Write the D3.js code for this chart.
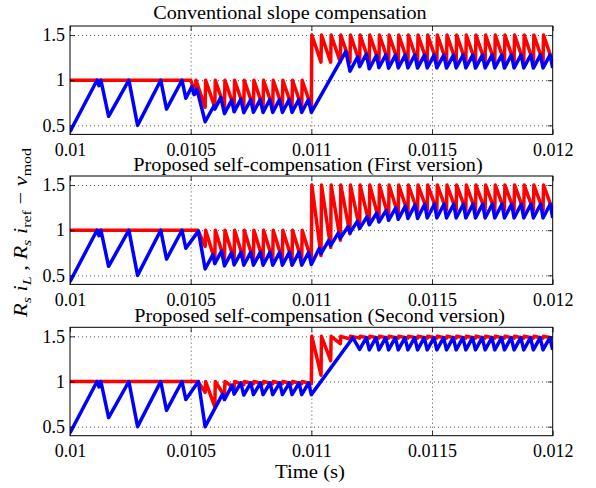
<!DOCTYPE html>
<html>
<head>
<meta charset="utf-8">
<script src="https://cdn.jsdelivr.net/npm/d3@7"></script>
<style>
body { margin: 0; background: #fff; }
text { font-family: "Liberation Serif", "Times New Roman", serif; fill: #000; }
</style>
</head>
<body>
<div class="chart"></div>
<script>
// Axis ticks
var xTicks = [0.01, 0.0105, 0.011, 0.0115, 0.012]
var xTickLabels = ["0.01", "0.0105", "0.011", "0.0115", "0.012"]
var yTicks = [0.5, 1, 1.5]
var yTickLabels = ["0.5", "1", "1.5"]
var panelTitles = ["Conventional slope compensation",
                   "Proposed self-compensation (First version)",
                   "Proposed self-compensation (Second version)"]

// Start-up part, the same in all three runs: [time (s), value]
var blueStart = [[0.01,0.43],[0.010112,1.0],[0.01012,0.94],[0.010128,1.0],[0.01016,0.6],
  [0.010244,1.0],[0.01028,0.5],[0.010376,1.0],[0.0104,0.68],[0.010464,1.0],[0.01048,0.8]]
var redStart = [[0.01,1],[0.0105,1]]

// Conventional slope compensation
var blue1 = [[0.010505,0.93],[0.010514,0.84],[0.010526,0.9],[0.01056,0.54],
  [0.010597,0.72],[0.0106,0.68],[0.010625,0.81],[0.01064,0.63],[0.01067,0.78],[0.01068,0.65],
  [0.010708,0.79],[0.01072,0.64],[0.010749,0.785],[0.01076,0.645],[0.010788,0.785],[0.0108,0.643],
  [0.010828,0.786],[0.01084,0.643],[0.010868,0.786],[0.01088,0.643],[0.010908,0.786],[0.01092,0.643],
  [0.010948,0.786],[0.01096,0.643],[0.010988,0.786],[0.011,0.643],
  [0.011143,1.32],[0.01116,1.1],[0.011192,1.26],[0.0112,1.15],[0.011228,1.29],[0.01124,1.126],
  [0.01127,1.276],[0.01128,1.138],[0.011309,1.283],[0.01132,1.133],[0.011349,1.28],[0.01136,1.135],
  [0.011389,1.28],[0.0114,1.135],[0.011429,1.282],[0.01144,1.134],[0.011469,1.28],[0.01148,1.135],
  [0.011509,1.281],[0.01152,1.135],[0.011549,1.28],[0.01156,1.134],[0.011589,1.28],[0.0116,1.135],
  [0.011629,1.282],[0.01164,1.135],[0.011669,1.28],[0.01168,1.134],[0.011709,1.28],[0.01172,1.135],
  [0.011749,1.281],[0.01176,1.135],[0.011789,1.28],[0.0118,1.134],[0.011829,1.28],[0.01184,1.135],
  [0.011869,1.282],[0.01188,1.135],[0.011909,1.28],[0.01192,1.134],[0.011949,1.28],[0.01196,1.135],
  [0.011989,1.281],[0.012,1.135]]
var red1 = [[0.01052,0.85],[0.010522,1],
  [0.01056,0.7],[0.010562,1],[0.0106,0.7],[0.010602,1],[0.01064,0.7],[0.010642,1],
  [0.01068,0.7],[0.010682,1],[0.01072,0.7],[0.010722,1],[0.01076,0.7],[0.010762,1],
  [0.0108,0.7],[0.010802,1],[0.01084,0.7],[0.010842,1],[0.01088,0.7],[0.010882,1],
  [0.01092,0.7],[0.010922,1],[0.01096,0.7],[0.010962,1],[0.011,0.7],[0.011002,1.5],
  [0.01104,1.2],[0.011042,1.5],[0.01108,1.2],[0.011082,1.5],[0.01112,1.2],[0.011122,1.5],
  [0.01116,1.2],[0.011162,1.5],[0.0112,1.2],[0.011202,1.5],[0.01124,1.2],[0.011242,1.5],
  [0.01128,1.2],[0.011282,1.5],[0.01132,1.2],[0.011322,1.5],[0.01136,1.2],[0.011362,1.5],
  [0.0114,1.2],[0.011402,1.5],[0.01144,1.2],[0.011442,1.5],[0.01148,1.2],[0.011482,1.5],
  [0.01152,1.2],[0.011522,1.5],[0.01156,1.2],[0.011562,1.5],[0.0116,1.2],[0.011602,1.5],
  [0.01164,1.2],[0.011642,1.5],[0.01168,1.2],[0.011682,1.5],[0.01172,1.2],[0.011722,1.5],
  [0.01176,1.2],[0.011762,1.5],[0.0118,1.2],[0.011802,1.5],[0.01184,1.2],[0.011842,1.5],
  [0.01188,1.2],[0.011882,1.5],[0.01192,1.2],[0.011922,1.5],[0.01196,1.2],[0.011962,1.5],
  [0.012,1.2]]

// Self-compensation, first version
var blue2 = [[0.010532,0.99],[0.01056,0.57],
  [0.010592,0.73],[0.0106,0.63],[0.010628,0.77],[0.01064,0.605],[0.01067,0.754],[0.01068,0.615],
  [0.010709,0.758],[0.01072,0.612],[0.010749,0.757],[0.01076,0.612],[0.010789,0.757],[0.0108,0.612],
  [0.010829,0.757],[0.01084,0.612],[0.010869,0.757],[0.01088,0.612],[0.010909,0.757],[0.01092,0.612],
  [0.010949,0.757],[0.01096,0.612],[0.010989,0.757],[0.011,0.62],
  [0.011033,0.8],[0.01104,0.74],[0.011073,0.89],[0.01108,0.83],[0.011112,0.97],[0.01112,0.91],
  [0.011152,1.04],[0.01116,0.97],[0.011191,1.1],[0.0112,1.02],[0.011231,1.15],[0.01124,1.06],
  [0.011271,1.19],[0.01128,1.09],[0.01131,1.22],[0.01132,1.11],[0.01135,1.25],[0.01136,1.12],
  [0.01139,1.27],[0.0114,1.13],[0.01143,1.28],[0.01144,1.13],[0.01147,1.29],[0.01148,1.135],
  [0.01151,1.29],[0.01152,1.135],[0.01155,1.29],[0.01156,1.135],[0.01159,1.29],[0.0116,1.135],
  [0.01163,1.29],[0.01164,1.135],[0.01167,1.29],[0.01168,1.135],[0.01171,1.29],[0.01172,1.135],
  [0.01175,1.29],[0.01176,1.135],[0.01179,1.29],[0.0118,1.135],[0.01183,1.29],[0.01184,1.135],
  [0.01187,1.29],[0.01188,1.135],[0.01191,1.29],[0.01192,1.135],[0.01195,1.29],[0.01196,1.135],
  [0.01199,1.29],[0.012,1.135]]
var red2 = [[0.01053,1],[0.01056,0.82],[0.010562,1],
  [0.0106,0.67],[0.010602,1],[0.01064,0.67],[0.010642,1],[0.01068,0.67],[0.010682,1],
  [0.01072,0.67],[0.010722,1],[0.01076,0.67],[0.010762,1],[0.0108,0.67],[0.010802,1],
  [0.01084,0.67],[0.010842,1],[0.01088,0.67],[0.010882,1],[0.01092,0.67],[0.010922,1],
  [0.01096,0.67],[0.010962,1],[0.011,0.67],[0.011002,1.5],
  [0.01104,0.72],[0.011042,1.5],[0.01108,0.81],[0.011082,1.5],[0.01112,0.89],[0.011122,1.5],
  [0.01116,0.96],[0.011162,1.5],[0.0112,1.02],[0.011202,1.5],[0.01124,1.07],[0.011242,1.5],
  [0.01128,1.11],[0.011282,1.5],[0.01132,1.14],[0.011322,1.5],[0.01136,1.17],[0.011362,1.5],
  [0.0114,1.19],[0.011402,1.5],[0.01144,1.21],[0.011442,1.5],[0.01148,1.22],[0.011482,1.5],
  [0.01152,1.22],[0.011522,1.5],[0.01156,1.22],[0.011562,1.5],[0.0116,1.22],[0.011602,1.5],
  [0.01164,1.22],[0.011642,1.5],[0.01168,1.22],[0.011682,1.5],[0.01172,1.22],[0.011722,1.5],
  [0.01176,1.22],[0.011762,1.5],[0.0118,1.22],[0.011802,1.5],[0.01184,1.22],[0.011842,1.5],
  [0.01188,1.22],[0.011882,1.5],[0.01192,1.22],[0.011922,1.5],[0.01196,1.22],[0.011962,1.5],
  [0.012,1.22]]

// Self-compensation, second version
var blue3 = [[0.010532,1.0],[0.01056,0.5],
  [0.010632,0.86],[0.01064,0.8],[0.010672,0.96],[0.01068,0.86],[0.010708,0.985],[0.01072,0.85],
  [0.010749,0.985],[0.01076,0.855],[0.010789,0.985],[0.0108,0.855],[0.010829,0.985],[0.01084,0.855],
  [0.010869,0.985],[0.01088,0.855],[0.010909,0.985],[0.01092,0.855],[0.010949,0.985],[0.01096,0.855],
  [0.010989,0.985],[0.011,0.855],
  [0.011172,1.485],[0.0112,1.355],[0.011228,1.485],[0.01124,1.35],[0.011268,1.485],[0.01128,1.35],
  [0.011308,1.485],[0.01132,1.35],[0.011348,1.485],[0.01136,1.35],[0.011388,1.485],[0.0114,1.35],
  [0.011428,1.485],[0.01144,1.35],[0.011468,1.485],[0.01148,1.35],[0.011508,1.485],[0.01152,1.35],
  [0.011548,1.485],[0.01156,1.35],[0.011588,1.485],[0.0116,1.35],[0.011628,1.485],[0.01164,1.35],
  [0.011668,1.485],[0.01168,1.35],[0.011708,1.485],[0.01172,1.35],[0.011748,1.485],[0.01176,1.35],
  [0.011788,1.485],[0.0118,1.35],[0.011828,1.485],[0.01184,1.35],[0.011868,1.485],[0.01188,1.35],
  [0.011908,1.485],[0.01192,1.35],[0.011948,1.485],[0.01196,1.35],[0.011988,1.485],[0.012,1.35]]
var red3 = [[0.01053,1],[0.01056,0.88],[0.010562,1],
  [0.0106,0.72],[0.010602,1],[0.01064,0.84],[0.010642,1],[0.01068,0.93],[0.010682,1],
  [0.01072,0.965],[0.010722,1],[0.01076,0.975],[0.010762,1],[0.0108,0.975],[0.010802,1],
  [0.01084,0.975],[0.010842,1],[0.01088,0.975],[0.010882,1],[0.01092,0.975],[0.010922,1],
  [0.01096,0.975],[0.010962,1],[0.011,0.975],[0.011002,1.5],
  [0.01104,1.07],[0.011042,1.5],[0.01108,1.23],[0.011082,1.5],[0.01112,1.42],[0.011122,1.5],
  [0.01116,1.47],[0.011162,1.5],[0.0112,1.48],[0.011202,1.5],[0.01124,1.48],[0.011242,1.5],
  [0.01128,1.48],[0.011282,1.5],[0.01132,1.48],[0.011322,1.5],[0.01136,1.48],[0.011362,1.5],
  [0.0114,1.48],[0.011402,1.5],[0.01144,1.48],[0.011442,1.5],[0.01148,1.48],[0.011482,1.5],
  [0.01152,1.48],[0.011522,1.5],[0.01156,1.48],[0.011562,1.5],[0.0116,1.48],[0.011602,1.5],
  [0.01164,1.48],[0.011642,1.5],[0.01168,1.48],[0.011682,1.5],[0.01172,1.48],[0.011722,1.5],
  [0.01176,1.48],[0.011762,1.5],[0.0118,1.48],[0.011802,1.5],[0.01184,1.48],[0.011842,1.5],
  [0.01188,1.48],[0.011882,1.5],[0.01192,1.48],[0.011922,1.5],[0.01196,1.48],[0.011962,1.5],
  [0.012,1.48]]

var runs = [
  {blue: blueStart.concat(blue1), red: redStart.concat(red1)},
  {blue: blueStart.concat(blue2), red: redStart.concat(red2)},
  {blue: blueStart.concat(blue3), red: redStart.concat(red3)}
]

// Layout
var svg_width = 596
var svg_height = 488
var plotLeft = 70, plotRight = 552.7, plotHeight = 108.4
var panelTop = [26, 176, 327.3]
var titleLayout = [{x: 153.3, y: 19, len: 273.4},
                   {x: 133.3, y: 171, len: 349.4},
                   {x: 134.3, y: 322, len: 370.7}]

var svg = d3.select(".chart")
  .append("svg")
  .attr("width", svg_width)
  .attr("height", svg_height)

var xScale = d3.scaleLinear().domain([0.01, 0.012]).range([plotLeft, plotRight])

runs.forEach(function(run, i) {
  var top = panelTop[i]
  var bottom = top + plotHeight
  var yScale = d3.scaleLinear().domain([0.4, 1.6]).range([bottom, top])

  var g = svg.append("g")

  // clip for the traces
  svg.append("clipPath").attr("id", "clip" + i)
    .append("rect")
    .attr("x", plotLeft).attr("y", top)
    .attr("width", plotRight - plotLeft).attr("height", plotHeight)

  // dotted grid
  g.append("g")
    .attr("transform", `translate(0,${bottom})`)
    .call(d3.axisBottom(xScale).tickValues(xTicks.slice(1, -1)).tickSize(-plotHeight).tickFormat(""))
    .call(s => s.select(".domain").remove())
    .selectAll("line").attr("stroke", "#222").attr("stroke-width", 0.8).attr("stroke-dasharray", "1,3")
  g.append("g")
    .attr("transform", `translate(${plotLeft},0)`)
    .call(d3.axisLeft(yScale).tickValues(yTicks).tickSize(-(plotRight - plotLeft)).tickFormat(""))
    .call(s => s.select(".domain").remove())
    .selectAll("line").attr("stroke", "#222").attr("stroke-width", 0.8).attr("stroke-dasharray", "1,3")

  var line = d3.line().x(d => xScale(d[0])).y(d => yScale(d[1]))

  g.append("path")
    .datum(run.red)
    .attr("clip-path", `url(#clip${i})`)
    .attr("fill", "none")
    .attr("stroke", "#ff0000")
    .attr("stroke-width", 3.5)
    .attr("stroke-linejoin", "round")
    .attr("d", line)

  g.append("path")
    .datum(run.blue)
    .attr("clip-path", `url(#clip${i})`)
    .attr("fill", "none")
    .attr("stroke", "#0000ff")
    .attr("stroke-width", 3.5)
    .attr("stroke-linejoin", "round")
    .attr("d", line)

  // inward ticks on all four sides
  var tickAxes = [
    {axis: d3.axisBottom(xScale).tickValues(xTicks), t: `translate(0,${bottom})`},
    {axis: d3.axisTop(xScale).tickValues(xTicks), t: `translate(0,${top})`},
    {axis: d3.axisLeft(yScale).tickValues(yTicks), t: `translate(${plotLeft},0)`},
    {axis: d3.axisRight(yScale).tickValues(yTicks), t: `translate(${plotRight},0)`}
  ]
  tickAxes.forEach(function(a) {
    g.append("g")
      .attr("transform", a.t)
      .call(a.axis.tickSize(-5).tickFormat(""))
      .call(s => s.select(".domain").remove())
      .selectAll("line").attr("stroke", "#000").attr("stroke-width", 0.8)
  })

  // tick labels
  g.append("g")
    .attr("transform", `translate(0,${bottom})`)
    .call(d3.axisBottom(xScale).tickValues(xTicks).tickSize(0).tickPadding(8.5)
      .tickFormat((d, j) => xTickLabels[j]))
    .call(s => s.select(".domain").remove())
    .selectAll("text").attr("font-size", 18).attr("font-family", "Liberation Serif")
  g.append("g")
    .attr("transform", `translate(${plotLeft},0)`)
    .call(d3.axisLeft(yScale).tickValues(yTicks).tickSize(0).tickPadding(5)
      .tickFormat((d, j) => yTickLabels[j]))
    .call(s => s.select(".domain").remove())
    .selectAll("text").attr("font-size", 18).attr("font-family", "Liberation Serif")

  // frame
  g.append("rect")
    .attr("x", plotLeft).attr("y", top)
    .attr("width", plotRight - plotLeft).attr("height", plotHeight)
    .attr("fill", "none").attr("stroke", "#000").attr("stroke-width", 1)

  // title
  svg.append("text")
    .attr("x", titleLayout[i].x)
    .attr("y", titleLayout[i].y)
    .attr("font-size", 18)
    .attr("textLength", titleLayout[i].len)
    .attr("lengthAdjust", "spacingAndGlyphs")
    .text(panelTitles[i])
})

// x axis label
svg.append("text")
  .attr("x", 275)
  .attr("y", 478)
  .attr("font-size", 18)
  .attr("textLength", 70)
  .attr("lengthAdjust", "spacingAndGlyphs")
  .text("Time (s)")

// y axis label (math)
var yLabel = svg.append("text")
  .attr("transform", "translate(26.5,317) rotate(-90)")
  .attr("font-size", 19)
  .attr("textLength", 169)
  .attr("lengthAdjust", "spacingAndGlyphs")
var parts = [
  {t: "R", it: true}, {t: "s", it: true, sub: true}, {t: " i", it: true}, {t: "L", it: true, sub: true},
  {t: " , "}, {t: "R", it: true}, {t: "s", it: true, sub: true}, {t: " i", it: true},
  {t: "ref", sub: true}, {t: " \u2212 "}, {t: "v", it: true}, {t: "mod", sub: true}
]
var shifted = false
parts.forEach(function(p) {
  var ts = yLabel.append("tspan").text(p.t)
  if (p.it) ts.attr("font-style", "italic")
  if (p.sub) {
    ts.attr("font-size", 13.5)
    if (!shifted) { ts.attr("dy", 4); shifted = true }
  } else if (shifted) {
    ts.attr("dy", -4); shifted = false
  }
})
</script>
</body>
</html>
